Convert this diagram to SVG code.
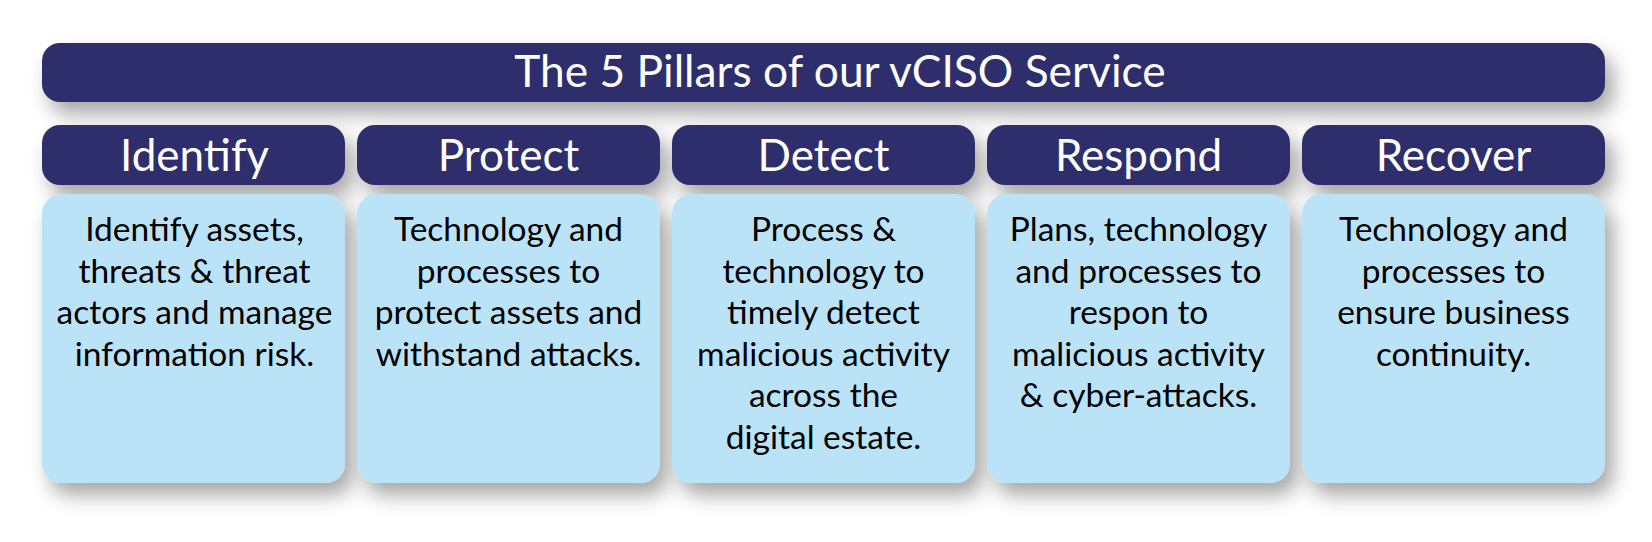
<svg xmlns="http://www.w3.org/2000/svg" width="1652" height="542" viewBox="0 0 1652 542">
<defs>
<filter id="sh" x="-15%" y="-40%" width="135%" height="190%">
<feDropShadow dx="8" dy="12" stdDeviation="10" flood-color="#000" flood-opacity="0.35"/>
</filter>
<style>
.dark{fill:#2E2E6C;filter:url(#sh)}
.light{fill:#BBE3F8;filter:url(#sh)}
.t{font-family:Lato,"Open Sans",sans-serif;fill:#fff;text-anchor:middle}
.h{font-family:Lato,"Open Sans",sans-serif;font-size:44px;fill:#fff;text-anchor:middle}
.b{font-family:Lato,"Open Sans",sans-serif;font-size:33.5px;fill:#000;text-anchor:middle}
</style>
</defs>
<rect width="1652" height="542" fill="#fff"/>
<g id="title">
<rect class="dark" x="42" y="43" width="1563" height="59" rx="18"/>
<text class="t" x="840" y="87" font-size="44.3">The 5 Pillars of our vCISO Service</text>
</g>
<g id="identify">
<rect class="dark" x="42" y="125" width="303" height="60" rx="18"/>
<text class="h" x="194.5" y="171">Identify</text>
<rect class="light" x="42" y="194" width="303" height="289" rx="20"/>
<text class="b" x="194.5" y="241">Identify assets,</text>
<text class="b" x="194.5" y="282.5">threats &amp; threat</text>
<text class="b" x="194.5" y="324">actors and manage</text>
<text class="b" x="194.5" y="365.5">information risk.</text>
</g>
<g id="protect">
<rect class="dark" x="357" y="125" width="303" height="60" rx="18"/>
<text class="h" x="508.5" y="171">Protect</text>
<rect class="light" x="357" y="194" width="303" height="289" rx="20"/>
<text class="b" x="508.5" y="241">Technology and</text>
<text class="b" x="508.5" y="282.5">processes to</text>
<text class="b" x="508.5" y="324">protect assets and</text>
<text class="b" x="508.5" y="365.5">withstand attacks.</text>
</g>
<g id="detect">
<rect class="dark" x="672" y="125" width="303" height="60" rx="18"/>
<text class="h" x="823.5" y="171">Detect</text>
<rect class="light" x="672" y="194" width="303" height="289" rx="20"/>
<text class="b" x="823.5" y="241">Process &amp;</text>
<text class="b" x="823.5" y="282.5">technology to</text>
<text class="b" x="823.5" y="324">timely detect</text>
<text class="b" x="823.5" y="365.5">malicious activity</text>
<text class="b" x="823.5" y="407">across the</text>
<text class="b" x="823.5" y="448.5">digital estate.</text>
</g>
<g id="respond">
<rect class="dark" x="987" y="125" width="303" height="60" rx="18"/>
<text class="h" x="1138.5" y="171">Respond</text>
<rect class="light" x="987" y="194" width="303" height="289" rx="20"/>
<text class="b" x="1138.5" y="241">Plans, technology</text>
<text class="b" x="1138.5" y="282.5">and processes to</text>
<text class="b" x="1138.5" y="324">respon to</text>
<text class="b" x="1138.5" y="365.5">malicious activity</text>
<text class="b" x="1138.5" y="407">&amp; cyber-attacks.</text>
</g>
<g id="recover">
<rect class="dark" x="1302" y="125" width="303" height="60" rx="18"/>
<text class="h" x="1453.5" y="171">Recover</text>
<rect class="light" x="1302" y="194" width="303" height="289" rx="20"/>
<text class="b" x="1453.5" y="241">Technology and</text>
<text class="b" x="1453.5" y="282.5">processes to</text>
<text class="b" x="1453.5" y="324">ensure business</text>
<text class="b" x="1453.5" y="365.5">continuity.</text>
</g>
<g id="connectors"/>
</svg>
